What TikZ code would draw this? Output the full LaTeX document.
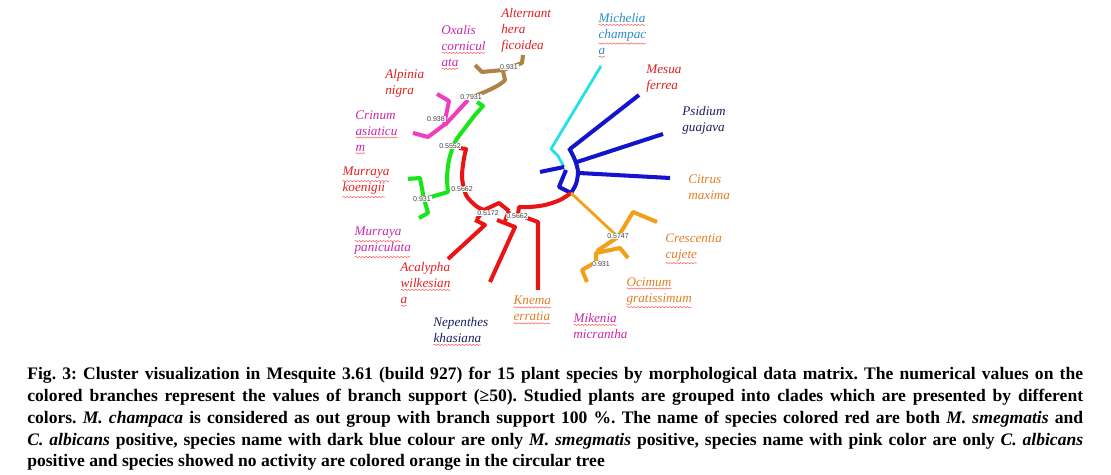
\documentclass[tikz,border=0pt]{standalone}
\usepackage{fontspec}
\setmainfont{Liberation Serif}
\setsansfont{Liberation Sans}
\usetikzlibrary{decorations.pathmorphing}
\frenchspacing

\definecolor{brred}{RGB}{235,20,20}
\definecolor{brgreen}{RGB}{25,230,25}
\definecolor{brblue}{RGB}{20,20,205}
\definecolor{brcyan}{RGB}{35,225,230}
\definecolor{brorange}{RGB}{242,160,25}
\definecolor{brpink}{RGB}{240,60,190}
\definecolor{brbrown}{RGB}{175,130,70}
\definecolor{lbred}{RGB}{225,30,30}
\definecolor{lbpink}{RGB}{200,40,170}
\definecolor{lborange}{RGB}{225,125,35}
\definecolor{lbnavy}{RGB}{25,30,90}
\definecolor{lbcyan}{RGB}{40,140,200}

\tikzset{
  branch/.style={line width=2.3pt, line join=round},
  thinbranch/.style={line width=1.6pt, line join=round},
  sp/.style={font=\fontsize{7.5}{9.1}\selectfont\itshape, align=left, anchor=north west, inner sep=0pt},
  supp/.style={font=\fontsize{4}{4.5}\selectfont\sffamily, text=black!75, fill=white, inner sep=0.4pt},
  squig/.style={red!65, line width=0.3pt, decorate, decoration={snake, amplitude=0.35pt, segment length=2pt}},
  capline/.style={anchor=base west, inner sep=0pt, font=\fontsize{10}{12}\selectfont\bfseries}
}
\newcommand{\sq}[1]{\tikz[baseline=(s.base)]{\node[inner sep=0pt, outer sep=0pt, anchor=base] (s) {#1};
  \draw[squig] ([yshift=-1.3pt]s.south west) -- ([yshift=-1.3pt]s.south east);}}
\newcommand{\capw}{21.12cm}

\begin{document}
\begin{tikzpicture}[x=0.02cm, y=-0.02cm]
  \useasboundingbox (0,0) rectangle (1111,475);

  % outgroup and blue clade
  \draw[thinbranch, brcyan] (601,66) -- (551,149) -- (558,156) -- (564,167);
  \draw[branch, brblue] (540,172) -- (564,167);
  \draw[branch, brblue] (566,170) -- (561,182) -- (559,187) -- (571,193);
  \draw[branch, brblue] plot[smooth] coordinates {(569,148) (575,160) (578,172) (576,184) (571,193)};
  \draw[branch, brblue] (570,149) -- (639,95);
  \draw[branch, brblue] (577,162) -- (663,134);
  \draw[branch, brblue] (579,173) -- (670,178);

  % red clade
  \draw[branch, brred] plot[smooth] coordinates {(571,193) (560,200) (545,205) (530,207) (519,207)} -- (518,214);
  \draw[branch, brred] (459,148) -- (466,149) -- plot[smooth] coordinates {(464,158) (462,177) (466,195) (476,206) (484,210)} -- (499,203) -- (509,211);
  \draw[branch, brred] (484,210) -- (477,219);
  \draw[branch, brred] (509,211) -- (505,221);
  \draw[branch, brred] (518,214) -- (527,218);
  \draw[branch, brred] (527,218) -- (538,222) -- (538,290);
  \draw[branch, brred] (497,220) -- (515,227) -- (490,282);
  \draw[branch, brred] (475,220) -- (485,225) -- (448,259);

  % green clade
  \draw[branch, brgreen] (477,102) -- (483,106) -- plot[smooth] coordinates {(475,115) (465,128) (455,142) (449,160) (447,178) (448,192)} -- (424,199);
  \draw[branch, brgreen] (408,179) -- (420,178) -- (424,199) -- (428,213) -- (419,218);

  % pink and brown
  \draw[branch, brpink] (468,100) -- (445,125);
  \draw[branch, brpink] (437,94) -- (449,101) -- (444,125) -- (428,137) -- (413,133);
  \draw[branch, brbrown] (470,98) .. controls (485,92) and (500,86) .. (505,80) -- (503,71);
  \draw[branch, brbrown] (475,65) -- (482,72) -- (503,70) -- (522,63) -- (523,55);

  % orange clade
  \draw[thinbranch, brorange] (571,193) -- (618,237);
  \draw[branch, brorange] (657,222) -- (633,212) -- (618,237) -- (597,251);
  \draw[branch, brorange] (628,258) -- (620,248) -- (596,253) -- (596,262) -- (582,270) -- (587,282);

  % branch support values
  \node[supp] (s1) at (509,67) {0.931};
  \node[supp] (s2) at (471,97) {0.7931};
  \node[supp] (s3) at (436,119) {0.938};
  \node[supp] (s4) at (450,146) {0.5552};
  \node[supp] (s5) at (462,189) {0.5662};
  \node[supp] (s6) at (422,199) {0.931};
  \node[supp] (s7) at (488,213) {0.5172};
  \node[supp] (s8) at (517,216) {0.5662};
  \node[supp] (s9) at (618,236) {0.5747};
  \node[supp] (s10) at (601,264) {0.931};

  % species names
  \node[sp, text=lbred] (alt) at (501,8) {Alternant\\hera\\ficoidea};
  \node[sp, text=lbpink] (oxa) at (441,25) {Oxalis\\\sq{cornicul}\\\sq{ata}};
  \node[sp, text=lbred] (alp) at (385,69) {Alpinia\\nigra};
  \node[sp, text=lbpink] (cri) at (355,110) {Crinum\\\sq{asiaticu}\\\sq{m}};
  \node[sp, text=lbred] (mko) at (342,167) {\sq{Murraya}\\\sq{koenigii}};
  \node[sp, text=lbpink] (mpa) at (354,227) {\sq{Murraya}\\\sq{paniculata}};
  \node[sp, text=lbred] (aca) at (400,262) {Acalypha\\\sq{wilkesian}\\\sq{a}};
  \node[sp, text=lbnavy] (nep) at (433,317) {Nepenthes\\\sq{khasiana}};
  \node[sp, text=lborange] (kne) at (513,296) {\sq{Knema}\\\sq{erratia}};
  \node[sp, text=lbpink] (mik) at (573,313) {\sq{Mikenia}\\micrantha};
  \node[sp, text=lborange] (oci) at (626,277) {\sq{Ocimum}\\\sq{gratissimum}};
  \node[sp, text=lborange] (cre) at (665,233) {Crescentia\\\sq{cujete}};
  \node[sp, text=lborange] (cit) at (688,174) {Citrus\\maxima};
  \node[sp, text=lbnavy] (psi) at (682,106) {Psidium\\guajava};
  \node[sp, text=lbred] (mes) at (646,65) {Mesua\\ferrea};
  \node[sp, text=lbcyan] (mic) at (598,13) {\sq{Michelia}\\\sq{champac}\\\sq{a}};

  % caption
  \node[capline] (cap1) at (27,380) {\makebox[\capw][s]{Fig. 3: Cluster visualization in Mesquite 3.61 (build 927) for 15 plant species by morphological data matrix. The numerical values on the}};
  \node[capline] (cap2) at (27,402) {\makebox[\capw][s]{colored branches represent the values of branch support (≥50). Studied plants are grouped into clades which are presented by different}};
  \node[capline] (cap3) at (27,424) {\makebox[\capw][s]{colors. \textit{M. champaca} is considered as out group with branch support 100 \%. The name of species colored red are both \textit{M. smegmatis} and}};
  \node[capline] (cap4) at (27,446) {\makebox[\capw][s]{\textit{C. albicans} positive, species name with dark blue colour are only \textit{M. smegmatis} positive, species name with pink color are only \textit{C. albicans}}};
  \node[capline] (cap5) at (27,467) {positive and species showed no activity are colored orange in the circular tree};
\end{tikzpicture}
\end{document}
